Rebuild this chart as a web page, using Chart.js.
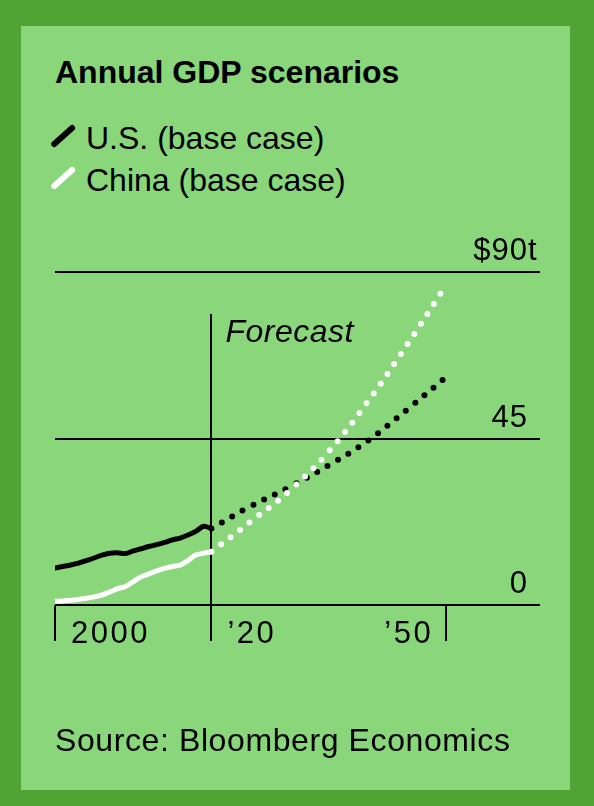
<!DOCTYPE html>
<html>
<head>
<meta charset="utf-8">
<script src="https://cdn.jsdelivr.net/npm/chart.js@4.4.1/dist/chart.umd.min.js"></script>
<style>
  body { margin: 0; background: #4fa634; }
  #frame { position: relative; width: 594px; height: 806px; background: #4fa634; overflow: hidden;
           font-family: "Liberation Sans", Arial, sans-serif; color: #000; }
  #panel { position: absolute; left: 21px; top: 26px; width: 549px; height: 764px; background: #89d67b; }
  .txt { position: absolute; left: 55px; font-size: 32px; line-height: 32px; white-space: nowrap; }
  #title { top: 56px; font-weight: bold; }
  #leg1 { top: 122px; left: 86px; }
  #leg2 { top: 164px; left: 86px; }
  #source { top: 724px; letter-spacing: 0.6px; }
  .mark { position: absolute; width: 30px; height: 5.5px; border-radius: 3px; transform: rotate(-42deg); }
  #mark1 { left: 48px; top: 133px; background: #000; }
  #mark2 { left: 48px; top: 175px; background: #fff; }
  canvas { position: absolute; left: 0; top: 0; }
</style>
</head>
<body>
<div id="frame">
  <div id="panel"></div>
  <div id="title" class="txt">Annual GDP scenarios</div>
  <div id="mark1" class="mark"></div>
  <div id="leg1" class="txt">U.S. (base case)</div>
  <div id="mark2" class="mark"></div>
  <div id="leg2" class="txt">China (base case)</div>
  <canvas id="grafico" width="594" height="806"></canvas>
  <div id="source" class="txt">Source: Bloomberg Economics</div>
</div>
<script>
// history, trillions of dollars
const historyYears = [2000, 2001, 2002, 2003, 2004, 2005, 2006, 2007, 2008, 2009, 2010,
                      2011, 2012, 2013, 2014, 2015, 2016, 2017, 2018, 2019, 2020];
const usHistory    = [10.0, 10.4, 10.8, 11.3, 12.0, 12.7, 13.5, 14.0, 14.1, 13.9, 14.6,
                      15.2, 15.8, 16.3, 16.9, 17.6, 18.1, 18.9, 19.9, 21.3, 20.7];
const chinaHistory = [1.0, 1.1, 1.3, 1.5, 1.8, 2.2, 2.7, 3.5, 4.4, 5.0, 6.3,
                      7.6, 8.4, 9.2, 9.9, 10.4, 10.8, 12.0, 13.5, 14.0, 14.4];

// forecast
const forecastYears = [2020, 2025, 2030, 2035, 2040, 2045, 2050];
const usForecast    = [20.7, 26.7, 31.9, 37.8, 44.4, 52.8, 61.6];
const chinaForecast = [14.4, 22.5, 30.9, 41.5, 55.0, 70.3, 86.5];

// axes
const yTicks  = [0, 45, 90];
const yLabels = ['0', '45', '$90'];
const xTicks  = [2000, 2020, 2050];
const xLabels = ['2000', '\u201920', '\u201950'];

const pts = (xs, ys) => xs.map((x, i) => ({ x: x, y: ys[i] }));

const FONT = '"Liberation Sans", Arial, sans-serif';

const decor = {
    id: 'decor',
    beforeDatasetsDraw(chart) {
        const { ctx, chartArea, scales } = chart;
        const x = scales.x;
        const tickEnd = chartArea.bottom + 36;
        ctx.save();
        ctx.strokeStyle = '#000';
        ctx.lineWidth = 2;
        xTicks.forEach((t) => {
            const px = Math.round(x.getPixelForValue(t));
            const top = t === 2020 ? chartArea.top + 42 : chartArea.bottom;
            ctx.beginPath();
            ctx.moveTo(px, top);
            ctx.lineTo(px, tickEnd);
            ctx.stroke();
        });
        ctx.restore();
    },
    afterDraw(chart) {
        const { ctx, chartArea, scales } = chart;
        const x = scales.x, y = scales.y;
        ctx.save();
        ctx.fillStyle = '#000';
        ctx.font = '31px ' + FONT;
        ctx.letterSpacing = '1px';
        ctx.textBaseline = 'alphabetic';

        // y labels sit above their gridlines, right aligned
        const rightX = chartArea.right - 12;
        yTicks.forEach((v, i) => {
            const py = y.getPixelForValue(v) - 12;
            ctx.textAlign = 'right';
            ctx.fillText(yLabels[i], rightX, py);
            if (i === yTicks.length - 1) {
                ctx.textAlign = 'left';
                ctx.fillText('t', rightX, py);
            }
        });

        // x labels
        ctx.letterSpacing = '2.5px';
        const base = chartArea.bottom + 38;
        xTicks.forEach((t, i) => {
            const px = x.getPixelForValue(t);
            if (i === xTicks.length - 1) {
                ctx.textAlign = 'right';
                ctx.fillText(xLabels[i], px - 13, base);
            } else {
                ctx.textAlign = 'left';
                ctx.fillText(xLabels[i], px + 16, base);
            }
        });

        // forecast note
        ctx.letterSpacing = '0.5px';
        ctx.font = 'italic 32px ' + FONT;
        ctx.textAlign = 'left';
        ctx.fillText('Forecast', x.getPixelForValue(2020) + 14, chartArea.top + 70);
        ctx.restore();
    }
};

const solid = { borderWidth: 5, pointRadius: 0, tension: 0.3, borderCapStyle: 'round', borderJoinStyle: 'round' };
const dotted = { borderWidth: 6, pointRadius: 0, tension: 0.4, borderCapStyle: 'round', borderDash: [0, 12] };

const ctx = document.getElementById('grafico').getContext('2d');
const grafico = new Chart(ctx, {
    type: 'line',
    data: {
        datasets: [
            Object.assign({ label: 'China (base case)', data: pts(historyYears, chinaHistory), borderColor: '#fff' }, solid),
            Object.assign({ label: 'U.S. (base case)', data: pts(historyYears, usHistory), borderColor: '#000' }, solid),
            Object.assign({ label: 'China forecast', data: pts(forecastYears, chinaForecast), borderColor: '#fff' }, dotted),
            Object.assign({ label: 'U.S. forecast', data: pts(forecastYears, usForecast), borderColor: '#000' }, dotted)
        ]
    },
    options: {
        responsive: false,
        animation: false,
        layout: { padding: { left: 55, right: 54, top: 272, bottom: 201 } },
        plugins: { legend: { display: false }, tooltip: { enabled: false } },
        scales: {
            x: { type: 'linear', min: 2000, max: 2062, display: false },
            y: {
                min: 0, max: 90,
                afterFit: (s) => { s.width = 0; },
                ticks: { display: false, stepSize: 45 },
                border: { display: false },
                grid: { color: '#000', lineWidth: 2, drawTicks: false }
            }
        }
    },
    plugins: [decor]
});
</script>
</body>
</html>
